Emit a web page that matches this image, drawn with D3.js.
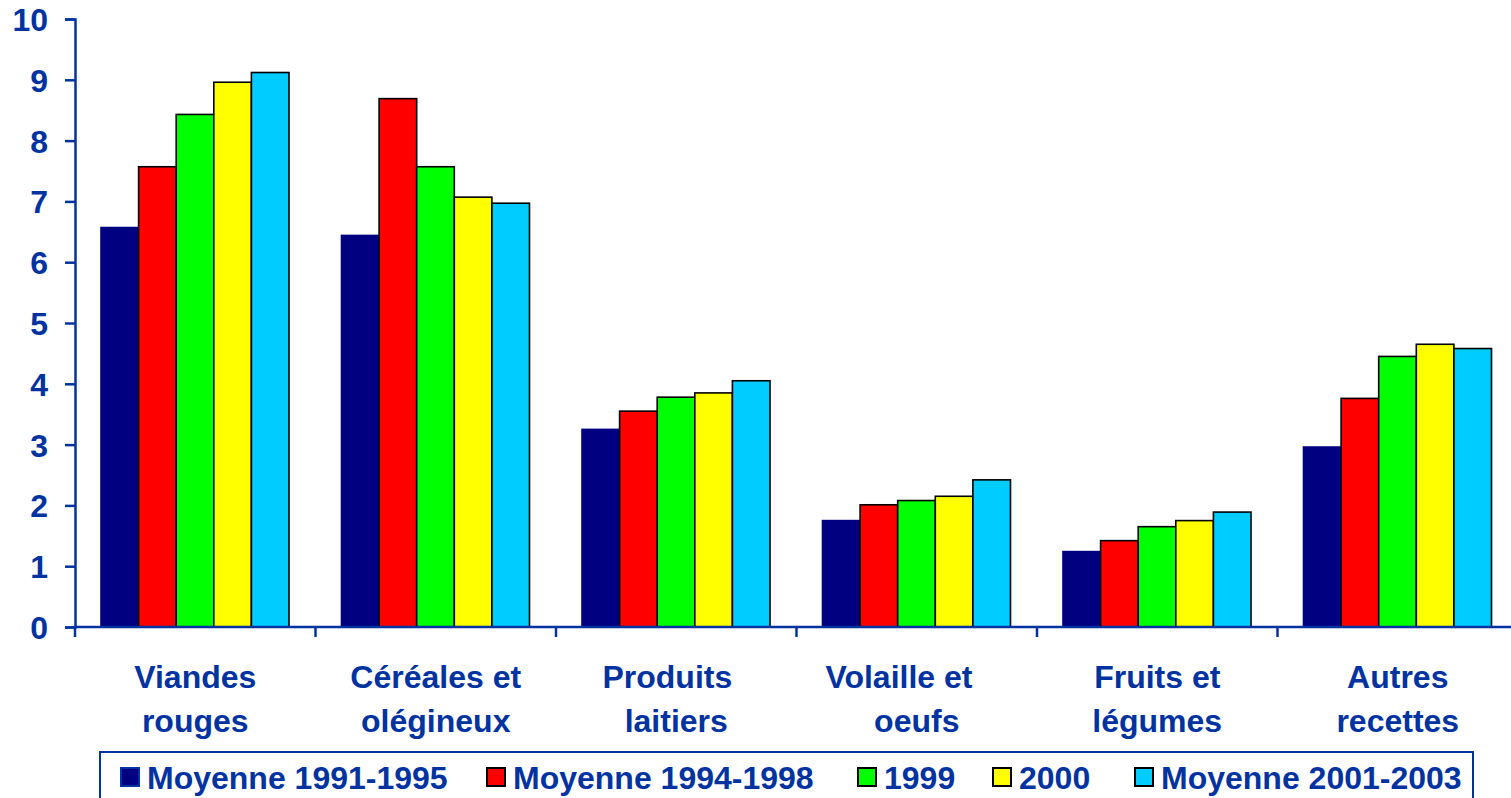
<!DOCTYPE html>
<html lang="fr">
<head>
<meta charset="UTF-8">
<title>Recettes</title>
<script src="https://cdnjs.cloudflare.com/ajax/libs/d3/7.8.5/d3.min.js"></script>
<style>
  body { margin: 0; background: #fff; }
  text { font-family: "Liberation Sans", Arial, sans-serif; font-weight: bold; fill: #0033a0; white-space: pre; }
</style>
</head>
<body>
<svg id="chart"></svg>
<script>
// data (trailing spaces as in the source labels)
const categories = [["Viandes", "rouges"], ["Céréales et", "olégineux"], ["Produits  ", "laitiers"],
                    ["Volaille et    ", "oeufs"], ["Fruits et", "légumes"], ["Autres", "recettes"]];
const seriesNames = ["Moyenne 1991-1995", "Moyenne 1994-1998", "1999", "2000", "Moyenne 2001-2003"];
const seriesColors = ["#000080", "#ff0000", "#00ff00", "#ffff00", "#00ccff"];
const values = [
  [6.57, 6.44, 3.25, 1.75, 1.24, 2.96],
  [7.57, 8.69, 3.55, 2.01, 1.42, 3.76],
  [8.43, 7.57, 3.78, 2.08, 1.65, 4.45],
  [8.96, 7.07, 3.85, 2.15, 1.75, 4.65],
  [9.12, 6.97, 4.05, 2.42, 1.89, 4.58]
];
const yTicks = [0, 1, 2, 3, 4, 5, 6, 7, 8, 9, 10];

const W = 1511, H = 798;
const axisBlue = "#0033a0";
const mLeft = 75, mTop = 19, mBottom = 627, mRight = 75 + 240.5 * 6;

const svg = d3.select("#chart").attr("width", W).attr("height", H);

const x = d3.scaleBand().domain(d3.range(categories.length)).range([mLeft, mRight]).paddingInner(0).paddingOuter(0);
const xs = d3.scaleBand().domain(d3.range(seriesNames.length)).range([26, 26 + 188]);
const y = d3.scaleLinear().domain([0, 10]).range([mBottom, mTop]);

// bars
seriesNames.forEach((name, s) => {
  svg.append("g").selectAll("rect").data(values[s]).join("rect")
    .attr("x", (d, i) => x(i) + xs(s))
    .attr("y", d => y(d))
    .attr("width", xs.bandwidth())
    .attr("height", d => y(0) - y(d))
    .attr("fill", seriesColors[s])
    .attr("stroke", s === 0 ? "#000080" : "#000")
    .attr("stroke-width", 1.6);
});

// y axis
const yAxis = svg.append("g").attr("transform", `translate(${mLeft},0)`)
  .call(d3.axisLeft(y).tickValues(yTicks).tickSize(10).tickPadding(17).tickFormat(d3.format("d")));
yAxis.select(".domain").attr("stroke", axisBlue).attr("stroke-width", 2.5);
yAxis.selectAll(".tick line").attr("stroke", axisBlue).attr("stroke-width", 2.5);
yAxis.selectAll(".tick text").attr("fill", axisBlue).attr("font-size", 32)
  .attr("font-family", "Liberation Sans, Arial, sans-serif").attr("font-weight", "bold").attr("dy", "0.36em");

// x axis line + ticks between categories
const xAxis = svg.append("g");
xAxis.append("line").attr("x1", mLeft).attr("x2", W).attr("y1", y(0)).attr("y2", y(0))
  .attr("stroke", axisBlue).attr("stroke-width", 2.5);
xAxis.selectAll("line.tk").data(d3.range(categories.length + 1)).join("line").attr("class", "tk")
  .attr("x1", i => mLeft + i * x.bandwidth()).attr("x2", i => mLeft + i * x.bandwidth())
  .attr("y1", y(0)).attr("y2", y(0) + 10)
  .attr("stroke", axisBlue).attr("stroke-width", 2.5);

// category labels
const lab = svg.append("g").selectAll("text").data(categories).join("text")
  .attr("text-anchor", "middle").attr("font-size", 32)
  .attr("x", (d, i) => x(i) + x.bandwidth() / 2);
lab.each(function (d) {
  const t = d3.select(this);
  d.forEach((line, k) => t.append("tspan").attr("x", t.attr("x")).attr("y", 688 + k * 44).text(line));
});

// legend
svg.append("rect").attr("x", 100).attr("y", 752).attr("width", 1373).attr("height", 60)
  .attr("fill", "none").attr("stroke", axisBlue).attr("stroke-width", 2);
const legendX = [121, 487, 858, 993, 1135];
const lg = svg.append("g").selectAll("g").data(seriesNames).join("g")
  .attr("transform", (d, i) => `translate(${legendX[i]},768)`);
lg.append("rect").attr("width", 18).attr("height", 18)
  .attr("fill", (d, i) => seriesColors[i])
  .attr("stroke", (d, i) => i === 0 ? axisBlue : "#000").attr("stroke-width", 2);
lg.append("text").attr("x", 26).attr("y", 21).attr("font-size", 32).text(d => d);
</script>
</body>
</html>
